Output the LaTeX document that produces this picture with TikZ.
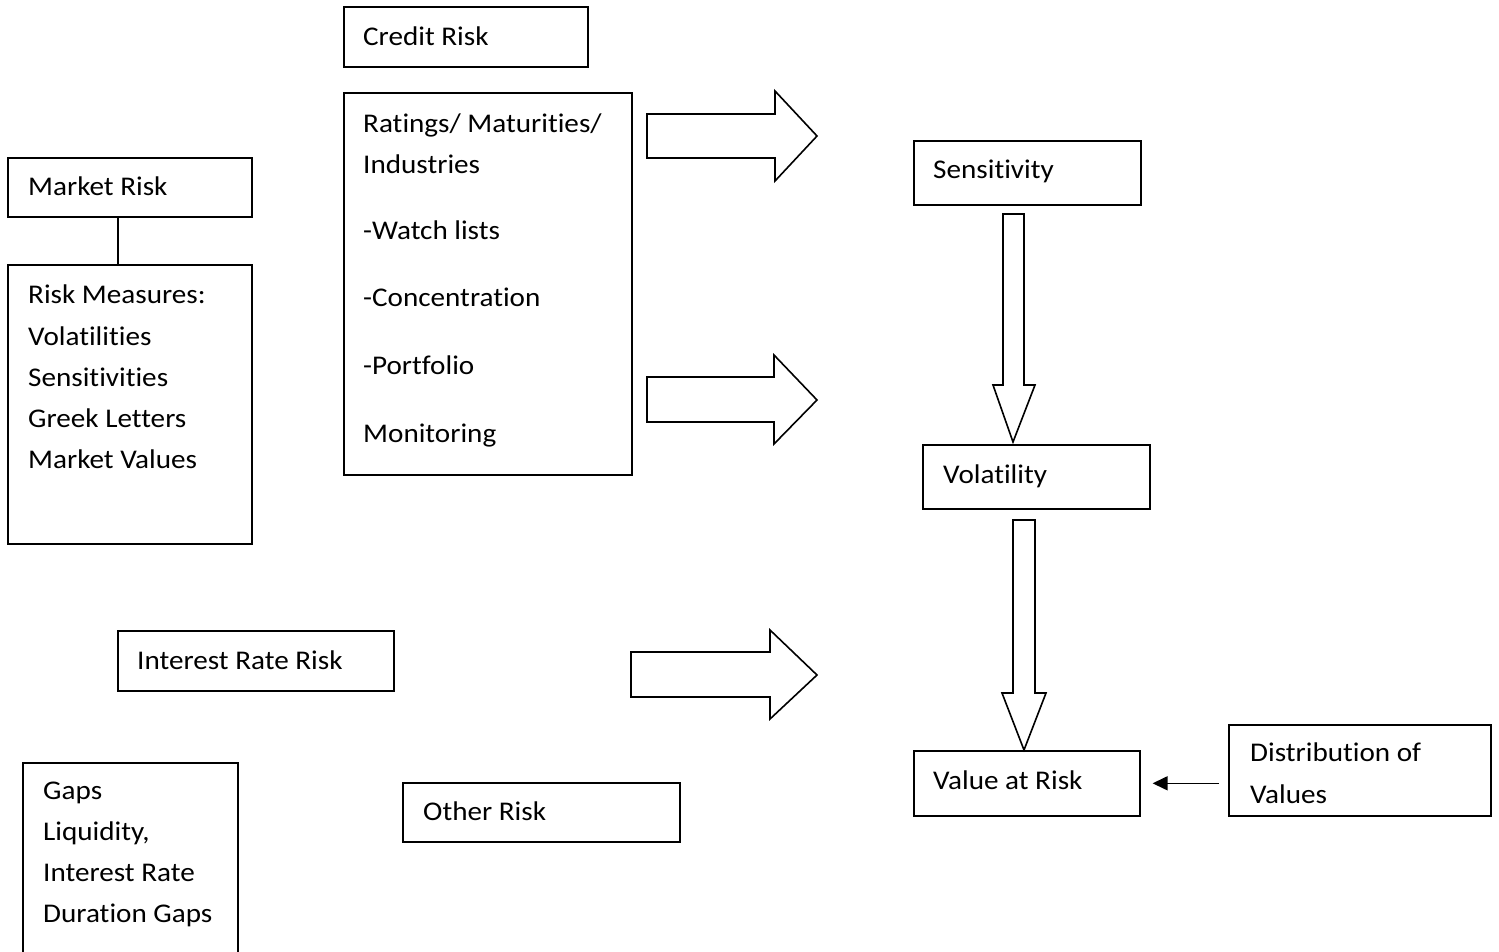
\documentclass[tikz,border=0pt]{standalone}
\usepackage{fontspec}
\setmainfont{Carlito}[FakeStretch=1.08, Ligatures=NoCommon, RawFeature=-liga]
\usetikzlibrary{arrows.meta}
\tikzset{
  box/.style={draw, line width=1.6pt, rectangle, inner sep=0pt, anchor=north west},
  txt/.style={anchor=base west, inner sep=0pt, font=\fontsize{27}{41}\selectfont},
  blk/.style={draw, line width=1.6pt, line join=miter, fill=white},
  link/.style={draw, line width=1.6pt},
  arr/.style={draw, line width=1.6pt, -{Triangle[length=15pt,width=14pt]}},
}
\begin{document}
\begin{tikzpicture}[x=1pt,y=-1pt]
\useasboundingbox[fill=white] (0,0) rectangle (1499,951);

% boxes
\node[box, minimum width=244pt, minimum height=60pt]  (credit)   at (343,6)   {};
\node[box, minimum width=288pt, minimum height=382pt] (ratings)  at (343,92)  {};
\node[box, minimum width=244pt, minimum height=59pt]  (market)   at (7,157)   {};
\node[box, minimum width=244pt, minimum height=279pt] (measures) at (7,264)   {};
\node[box, minimum width=227pt, minimum height=64pt]  (sens)     at (913,140) {};
\node[box, minimum width=227pt, minimum height=64pt]  (vol)      at (922,444) {};
\node[box, minimum width=226pt, minimum height=65pt]  (var)      at (913,750) {};
\node[box, minimum width=262pt, minimum height=91pt]  (dist)     at (1228,724) {};
\node[box, minimum width=276pt, minimum height=60pt]  (irr)      at (117,630) {};
\node[box, minimum width=277pt, minimum height=59pt]  (other)    at (402,782) {};
\node[box, minimum width=215pt, minimum height=220pt] (gaps)     at (22,762)  {};

% texts
\node[txt] (credit-t) at (363,45) {Credit Risk};
\node[txt] (rat-1) at (363,132) {Ratings/ Maturities/};
\node[txt] (rat-2) at (363,173) {Industries};
\node[txt] (rat-3) at (363,239) {-Watch lists};
\node[txt] (rat-4) at (363,306) {-Concentration};
\node[txt] (rat-5) at (363,374) {-Portfolio};
\node[txt] (rat-6) at (363,442) {Monitoring};
\node[txt] (market-t) at (28,195) {Market Risk};
\node[txt] (mea-1) at (28,303) {Risk Measures:};
\node[txt] (mea-2) at (28,345) {Volatilities};
\node[txt] (mea-3) at (28,386) {Sensitivities};
\node[txt] (mea-4) at (28,427) {Greek Letters};
\node[txt] (mea-5) at (28,468) {Market Values};
\node[txt] (sens-t) at (933,178) {Sensitivity};
\node[txt] (vol-t) at (943,483) {Volatility};
\node[txt] (var-t) at (933,789) {Value at Risk};
\node[txt] (dist-1) at (1250,761) {Distribution of};
\node[txt] (dist-2) at (1250,803) {Values};
\node[txt] (irr-t) at (137,669) {Interest Rate Risk};
\node[txt] (other-t) at (423,820) {Other Risk};
\node[txt] (gaps-1) at (43,799) {Gaps};
\node[txt] (gaps-2) at (43,840) {Liquidity,};
\node[txt] (gaps-3) at (43,881) {Interest Rate};
\node[txt] (gaps-4) at (43,922) {Duration Gaps};

% connectors
\draw[link] ([xshift=-12pt]market.south) -- ([xshift=-12pt]market.south |- measures.north);
\draw[arr, shorten <=9pt, shorten >=12pt] (dist.west |- var.east) -- (var.east);

% block arrows (right)
\draw[blk] (647,114) -- (775,114) -- (775,91) -- (817,136) -- (775,181) -- (775,158) -- (647,158) -- cycle;
\draw[blk] (647,377) -- (774,377) -- (774,355) -- (817,400) -- (774,444) -- (774,422) -- (647,422) -- cycle;
\draw[blk] (631,652) -- (770,652) -- (770,630) -- (817,675) -- (770,719) -- (770,697) -- (631,697) -- cycle;

% block arrows (down)
\draw[blk] (1003,214) -- (1024,214) -- (1024,385) -- (1035,385) -- (1013,442) -- (993,385) -- (1003,385) -- cycle;
\draw[blk] (1013,520) -- (1035,520) -- (1035,693) -- (1046,693) -- (1024,750) -- (1002,693) -- (1013,693) -- cycle;
\end{tikzpicture}
\end{document}
